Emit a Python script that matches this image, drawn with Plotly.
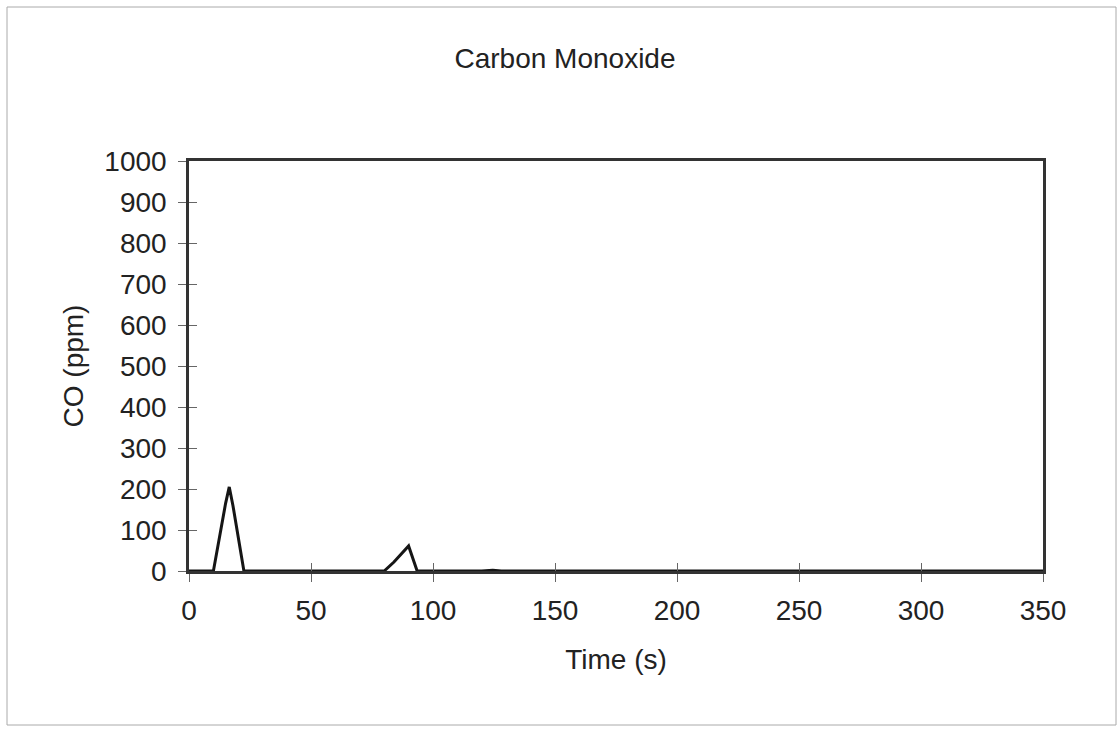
import plotly.graph_objects as go

time_s = [0, 10, 15, 16.5, 18, 22.5, 80, 84, 90, 93.5, 120, 124.5, 128, 300, 305, 310, 350]
co_ppm = [0, 0, 165, 205, 160, 0, 0, 22, 61, 0, 0, 2, 0, 0, 1, 0, 0]

x_ticks = [0, 50, 100, 150, 200, 250, 300, 350]
y_ticks = [0, 100, 200, 300, 400, 500, 600, 700, 800, 900, 1000]

W, H = 1118, 729
L, R, T, B = 189, 1043, 161, 571

FAM = "Liberation Sans, Arial, sans-serif"
TXT = "#222222"
font = dict(family=FAM, size=28, color=TXT)

fig = go.Figure()
fig.add_trace(go.Scatter(x=time_s, y=co_ppm, mode="lines",
                         line=dict(color="#151515", width=3), showlegend=False,
                         hoverinfo="x+y"))
# helper trace on the overlay axes (invisible) so inner tick halves are drawn
fig.add_trace(go.Scatter(x=time_s, y=co_ppm, mode="lines", xaxis="x2", yaxis="y2",
                         line=dict(color="rgba(0,0,0,0)", width=0), showlegend=False,
                         hoverinfo="skip"))

common = dict(showgrid=False, zeroline=False, tickcolor="#666666", tickwidth=1)

fig.update_layout(
    width=W, height=H,
    margin=dict(l=L, r=W - R, t=T, b=H - B),
    paper_bgcolor="white", plot_bgcolor="white",
    font=font,
    title=dict(text="Carbon Monoxide", x=565 / W, xanchor="center",
               y=1 - 58 / H, yanchor="middle", xref="container", yref="container",
               font=dict(family=FAM, size=28, color=TXT)),
    xaxis=dict(range=[0, 350], tickvals=x_ticks, ticks="outside", ticklen=8,
               showline=True, linecolor="#333333", linewidth=2.5, mirror=True,
               ticklabelstandoff=5, tickfont=dict(family=FAM, size=28, color=TXT),
               title=dict(text="Time (s)", standoff=25,
                          font=dict(family=FAM, size=28, color=TXT)),
               **common),
    yaxis=dict(range=[0, 1000], tickvals=y_ticks, ticks="outside", ticklen=8,
               showline=True, linecolor="#333333", linewidth=2.5, mirror=True,
               ticklabelstandoff=6, tickfont=dict(family=FAM, size=28, color=TXT),
               title=dict(text="CO (ppm)", standoff=13,
                          font=dict(family=FAM, size=28, color=TXT)),
               **common),
    xaxis2=dict(range=[0, 350], tickvals=x_ticks, ticks="inside", ticklen=8,
                overlaying="x", anchor="y2", showticklabels=False,
                showline=False, **common),
    yaxis2=dict(range=[0, 1000], tickvals=y_ticks, ticks="inside", ticklen=8,
                overlaying="y", anchor="x2", showticklabels=False,
                showline=False, **common),
)

# outer frame of the page
fig.add_shape(type="rect", xref="paper", yref="paper",
              x0=(7 - L) / (R - L), x1=(1116 - L) / (R - L),
              y0=(B - 725) / (B - T), y1=(B - 7) / (B - T),
              line=dict(color="#aaaaaa", width=1), layer="below")

fig.write_html("out.html")
